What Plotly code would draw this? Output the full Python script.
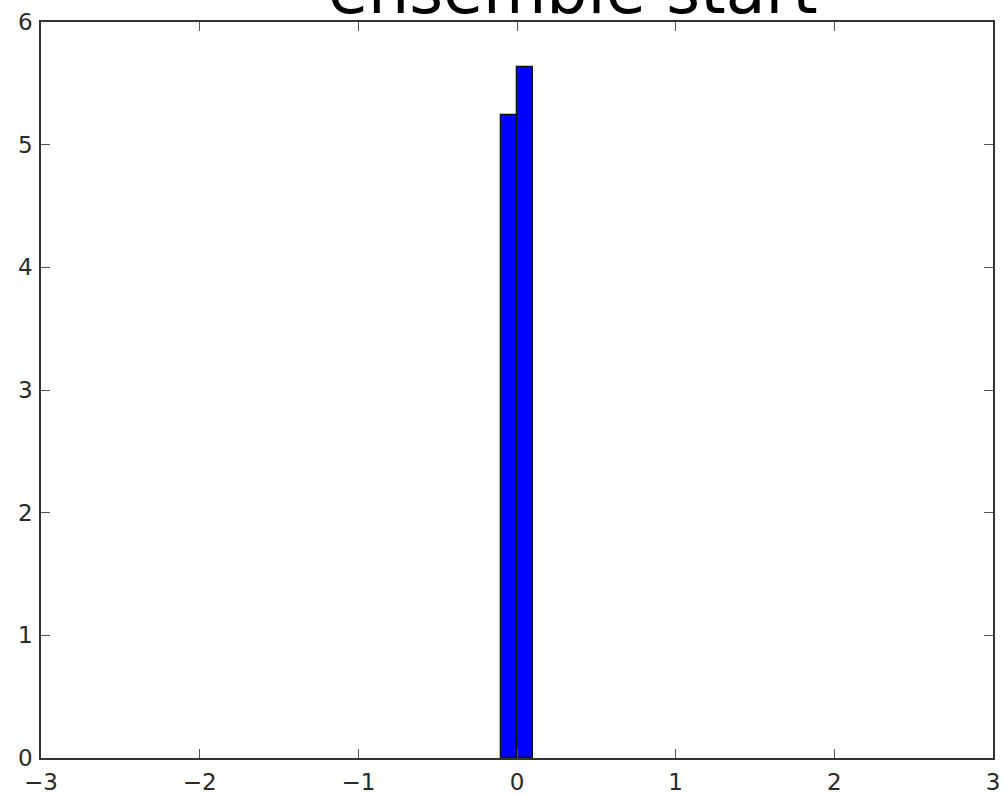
import plotly.graph_objects as go

# Histogram bins (left edges), bin width and density heights
bin_left = [-0.1, 0.0]
bin_width = 0.1
density = [5.24, 5.63]

x_ticks = [-3, -2, -1, 0, 1, 2, 3]
y_ticks = [0, 1, 2, 3, 4, 5, 6]

title_text = "ensemble start"

centers = [b + bin_width / 2 for b in bin_left]

fig = go.Figure()
fig.add_trace(go.Bar(
    x=centers,
    y=density,
    width=[bin_width] * len(centers),
    marker=dict(color="#0000ff", line=dict(color="#111111", width=1.3)),
    showlegend=False,
))

axis_common = dict(
    showline=True,
    linecolor="#333333",
    linewidth=1.6,
    mirror="ticks",
    ticks="inside",
    ticklen=9,
    tickwidth=1,
    tickcolor="#555555",
    showgrid=False,
    zeroline=False,
    automargin=False,
    tickfont=dict(family="DejaVu Sans", size=23, color="#2a2a2a"),
)

fig.update_xaxes(range=[-3, 3], tickvals=x_ticks, ticklabelstandoff=3, **axis_common)
fig.update_yaxes(range=[0, 6], tickvals=y_ticks, ticklabelstandoff=2, **axis_common)

fig.add_annotation(
    text=title_text,
    x=(573 - 41) / 952, xref="paper", xanchor="center",
    y=1 - 8 / 736, yref="paper", yanchor="bottom",
    showarrow=False,
    font=dict(family="DejaVu Sans", size=65, color="#000000"),
)

fig.update_layout(
    width=1006,
    height=796,
    margin=dict(l=41, r=13, t=22, b=38, autoexpand=False),
    paper_bgcolor="#ffffff",
    plot_bgcolor="#ffffff",
    bargap=0,
)

fig.write_html("out.html")
